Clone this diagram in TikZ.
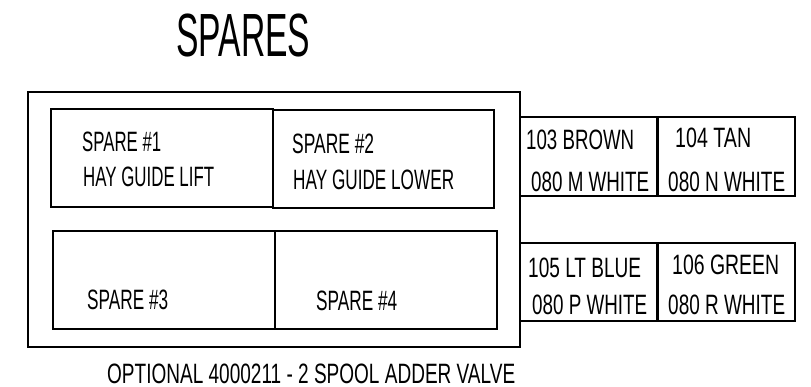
\documentclass[tikz,border=0pt]{standalone}
\usepackage{fontspec}
\usepackage{graphicx}
\setmainfont{Liberation Sans}
\newfontfamily\nar[FakeStretch=0.62]{Liberation Sans}
\newcommand\fw[2]{\resizebox{#1pt}{\height}{#2}}
\begin{document}
\begin{tikzpicture}[x=1pt,y=-1pt,
  box/.style={draw=black,line width=1.3pt,anchor=north west,inner sep=0pt,outer sep=0pt},
  lbl/.style={anchor=base west,inner sep=0pt,font=\nar\fontsize{28}{28}\selectfont},
  ttl/.style={anchor=base west,inner sep=0pt,font=\nar\fontsize{61}{61}\selectfont}]
\useasboundingbox[fill=white] (0,0) rectangle (811,387);
% outer frame
\node[box,minimum width=492pt,minimum height=255pt] (outer) at (28,92) {};
% spare boxes
\node[box,minimum width=222pt,minimum height=98pt] (s1) at (51,109) {};
\node[box,minimum width=221pt,minimum height=98pt] (s2) at (273,110) {};
\node[box,minimum width=222pt,minimum height=98pt] (s3) at (53,231) {};
\node[box,minimum width=222pt,minimum height=98pt] (s4) at (275,231) {};
% wire boxes
\node[box,minimum width=138pt,minimum height=79pt] (w1) at (520,117) {};
\node[box,minimum width=138pt,minimum height=79pt] (w2) at (657,117) {};
\node[box,minimum width=138pt,minimum height=78pt] (w3) at (520,243) {};
\node[box,minimum width=138pt,minimum height=78pt] (w4) at (657,243) {};
% texts
\node[ttl] (title) at (176,57) {\fw{134}{SPARES}};
\node[lbl] (t1a) at (82,152) {\fw{79}{SPARE \#1}};
\node[lbl] (t1b) at (83,187) {\fw{131}{HAY GUIDE LIFT}};
\node[lbl] (t2a) at (292,154) {\fw{82}{SPARE \#2}};
\node[lbl] (t2b) at (293,190) {\fw{161}{HAY GUIDE LOWER}};
\node[lbl] (t3) at (87,309) {\fw{81}{SPARE \#3}};
\node[lbl] (t4) at (316,310) {\fw{81}{SPARE \#4}};
\node[lbl] (w1a) at (526,150) {\fw{108}{103 BROWN}};
\node[lbl] (w1b) at (531,192) {\fw{118}{080 M WHITE}};
\node[lbl] (w2a) at (675,148) {\fw{76}{104 TAN}};
\node[lbl] (w2b) at (668,192) {\fw{117}{080 N WHITE}};
\node[lbl] (w3a) at (528,278) {\fw{113}{105 LT BLUE}};
\node[lbl] (w3b) at (532,315) {\fw{115}{080 P WHITE}};
\node[lbl] (w4a) at (672,275) {\fw{107}{106 GREEN}};
\node[lbl] (w4b) at (668,315) {\fw{117}{080 R WHITE}};
\node[lbl] (cap) at (107,383) {\fw{408}{OPTIONAL 4000211 - 2 SPOOL ADDER VALVE}};
\end{tikzpicture}
\end{document}
